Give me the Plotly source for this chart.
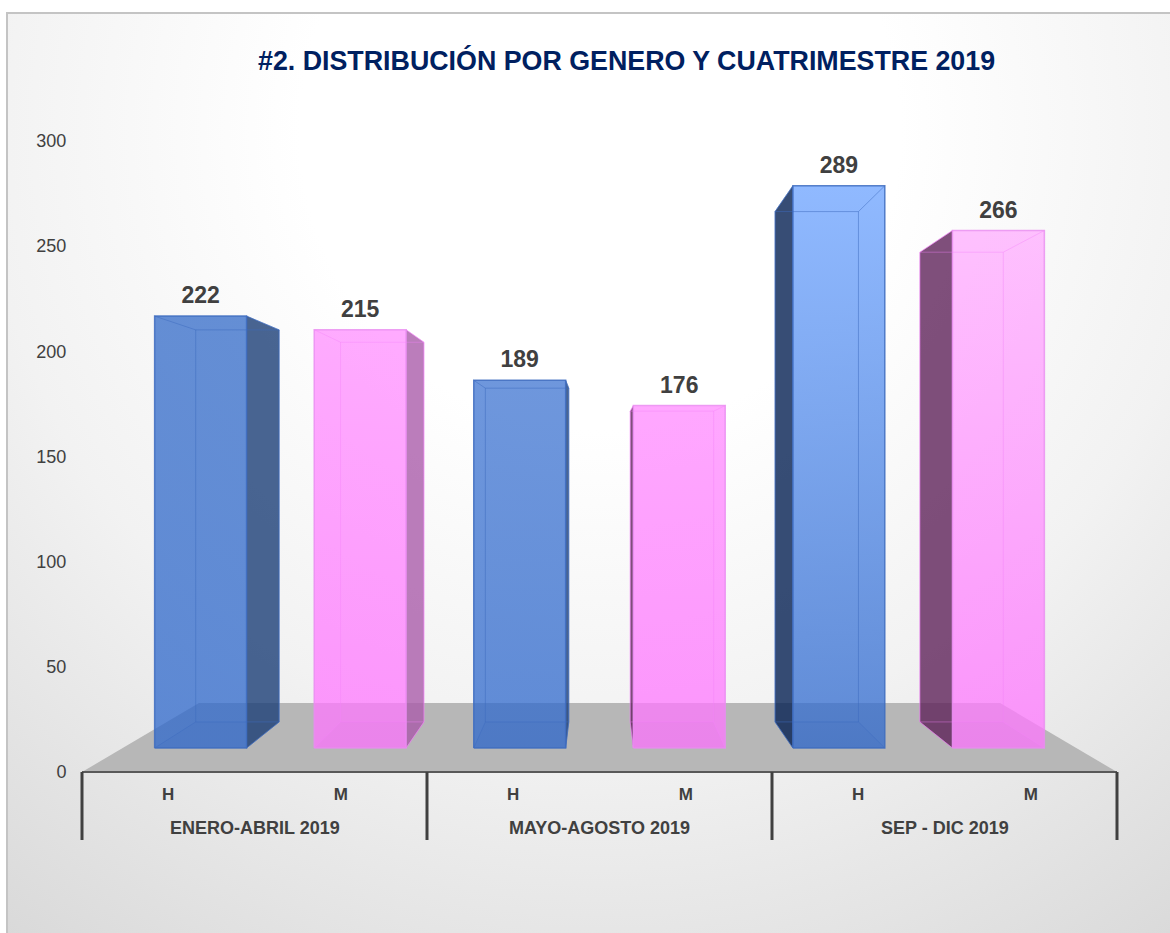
import base64
import plotly.graph_objects as go

TITLE = "#2. DISTRIBUCIÓN POR GENERO Y CUATRIMESTRE 2019"
periods = ["ENERO-ABRIL 2019", "MAYO-AGOSTO 2019", "SEP - DIC 2019"]
genders = ["H", "M", "H", "M", "H", "M"]
values = [222, 215, 189, 176, 289, 266]
y_ticks = [0, 50, 100, 150, 200, 250, 300]

# canvas layout (pixels)
W, H = 1170, 933
L, R, T, B = 82, 1117, 141, 772

# perspective of the 3D box: (scale, lift in y-axis units) per depth plane
FRONT = (0.925, 11.4)
BACK = (0.8396, 23.8)
FLOOR = (0.774, 32.8)
BAR_W = 0.576
CX = 3.0
LABEL_LIFT = 3.4


def px(x, plane):
    return CX + (x - CX) * plane[0]


def py(v, plane):
    return plane[1] + v * plane[0]


# bar styling: face gradients (bottom, top), edge colour
BLUE_BOTTOM = "rgba(46,104,204,0.75)"
PINK_BOTTOM = "rgba(255,118,255,0.75)"
tops = ["rgba(50,106,200,0.75)", "rgba(255,143,255,0.75)",
        "rgba(62,116,209,0.75)", "rgba(255,138,255,0.75)",
        "rgba(107,162,255,0.75)", "rgba(255,173,255,0.75)"]
EDGE = {"H": "rgba(62,108,192,0.85)", "M": "rgba(232,140,240,0.8)"}
INNER = {"H": "rgba(62,108,192,0.5)", "M": "rgba(245,130,250,0.4)"}
SIDE_RIGHT = {"H": "rgba(27,62,119,0.8)", "M": "rgba(170,92,170,0.8)"}
SIDE_LEFT = {"H": "rgba(5,32,82,0.8)", "M": "rgba(95,35,90,0.8)"}

fig = go.Figure()


def poly(xs, ys, fill=None, line=None, width=1.0, grad=None):
    kw = {}
    if grad is not None:
        kw["fillgradient"] = dict(type="vertical", colorscale=[[0, grad[0]], [1, grad[1]]])
    elif fill is not None:
        kw["fillcolor"] = fill
    fig.add_trace(go.Scatter(
        x=xs + xs[:1], y=ys + ys[:1], mode="lines", fill="toself" if (fill or grad) else "none",
        line=dict(color=line or "rgba(0,0,0,0)", width=width),
        hoverinfo="skip", showlegend=False, **kw))


# floor
poly([0, 6, px(6, FLOOR), px(0, FLOOR)], [0, 0, py(0, FLOOR), py(0, FLOOR)], fill="#b7b7b7")

for i, (g, v) in enumerate(zip(genders, values)):
    c = i + 0.5
    xl, xr = c - BAR_W / 2, c + BAR_W / 2
    fl, fr = px(xl, FRONT), px(xr, FRONT)
    bl, br = px(xl, BACK), px(xr, BACK)
    f0, f1 = py(0, FRONT), py(v, FRONT)
    b0, b1 = py(0, BACK), py(v, BACK)

    # bottom tint
    poly([fl, fr, br, bl], [f0, f0, b0, b0], fill="rgba(0,0,60,0.05)")
    # outer side face
    if br > fr:
        poly([fr, br, br, fr], [f1, b1, b0, f0], fill=SIDE_RIGHT[g], line=INNER[g])
    if bl < fl:
        poly([fl, bl, bl, fl], [f1, b1, b0, f0], fill=SIDE_LEFT[g], line=INNER[g])
    # front face
    poly([fl, fr, fr, fl], [f0, f0, f1, f1],
         grad=(BLUE_BOTTOM if g == "H" else PINK_BOTTOM, tops[i]), line=EDGE[g], width=1.5)
    # back rectangle and inner edges
    poly([bl, br, br, bl], [b0, b0, b1, b1], line=INNER[g], width=1.0)
    for a, b, u, w in [(fl, bl, f1, b1), (fr, br, f1, b1), (fl, bl, f0, b0), (fr, br, f0, b0)]:
        fig.add_trace(go.Scatter(x=[a, b], y=[u, w], mode="lines", line=dict(color=INNER[g], width=1),
                                 hoverinfo="skip", showlegend=False))

# value labels
fig.add_trace(go.Scatter(
    x=[px(i + 0.5, FRONT) for i in range(6)],
    y=[py(v, FRONT) + LABEL_LIFT for v in values],
    mode="text", text=[str(v) for v in values], textposition="top center",
    textfont=dict(family="Liberation Sans", size=23, color="#404040", weight="bold"),
    hoverinfo="skip", showlegend=False))

svg = f'''<svg xmlns="http://www.w3.org/2000/svg" width="{W}" height="{H}">
<defs><radialGradient id="g" gradientUnits="userSpaceOnUse" cx="600" cy="130" r="1000">
<stop offset="0" stop-color="#ffffff"/><stop offset="0.3" stop-color="#ffffff"/>
<stop offset="0.615" stop-color="#f2f2f2"/><stop offset="1" stop-color="#d9d9d9"/></radialGradient></defs>
<rect x="7" y="13" width="{W}" height="{H}" fill="url(#g)"/></svg>'''
src = "data:image/svg+xml;base64," + base64.b64encode(svg.encode()).decode()


def xp(p):
    return (p - L) / (R - L)


def yp(p):
    return (B - p) / (B - T)


shapes = []
# frame: only the top and left edges fall inside the picture
shapes.append(dict(type="rect", xref="paper", yref="paper", x0=xp(7), x1=xp(1180), y0=yp(13), y1=yp(945),
                   line=dict(color="#c4c4c4", width=2), fillcolor="rgba(0,0,0,0)", layer="below"))
# axis line and group separators
shapes.append(dict(type="line", xref="paper", yref="paper", x0=0, x1=1, y0=0, y1=0,
                   line=dict(color="#595959", width=2)))
for k in range(4):
    shapes.append(dict(type="line", xref="paper", yref="paper", x0=k / 3, x1=k / 3, y0=0, y1=yp(840),
                       line=dict(color="#404040", width=3)))

annotations = [dict(text=TITLE, xref="paper", yref="paper", x=xp(626), y=yp(60), showarrow=False,
                    xanchor="center", yanchor="middle",
                    font=dict(family="Liberation Sans", size=26.8, color="#002060", weight="bold"))]
for k, name in enumerate(periods):
    annotations.append(dict(text=name, xref="x", yref="paper", x=2 * k + 1, y=yp(828), showarrow=False,
                            xanchor="center", yanchor="middle",
                            font=dict(family="Liberation Sans", size=18, color="#404040", weight="bold")))

fig.update_layout(
    width=W, height=H, margin=dict(l=L, r=W - R, t=T, b=H - B, pad=0, autoexpand=False),
    paper_bgcolor="white", plot_bgcolor="rgba(0,0,0,0)", showlegend=False,
    shapes=shapes, annotations=annotations,
    images=[dict(source=src, xref="paper", yref="paper", x=xp(0), y=yp(0), sizex=W / (R - L), sizey=H / (B - T),
                 xanchor="left", yanchor="top", sizing="stretch", layer="below")],
    xaxis=dict(range=[0, 6], tickmode="array", tickvals=[i + 0.5 for i in range(6)], ticktext=genders,
               showgrid=False, zeroline=False, showline=False, ticks="outside", ticklen=7,
               tickcolor="rgba(0,0,0,0)",
               tickfont=dict(family="Liberation Sans", size=17, color="#404040", weight="bold")),
    yaxis=dict(range=[0, 300], tickmode="array", tickvals=y_ticks, showgrid=False, zeroline=False, showline=False,
               ticks="outside", ticklen=11, tickcolor="rgba(0,0,0,0)",
               tickfont=dict(family="Liberation Sans", size=18, color="#404040")),
)

fig.write_html("out.html", config={"displayModeBar": False},
               post_script="document.body.style.margin='0';document.documentElement.style.overflow='hidden';window.dispatchEvent(new Event('resize'));")
